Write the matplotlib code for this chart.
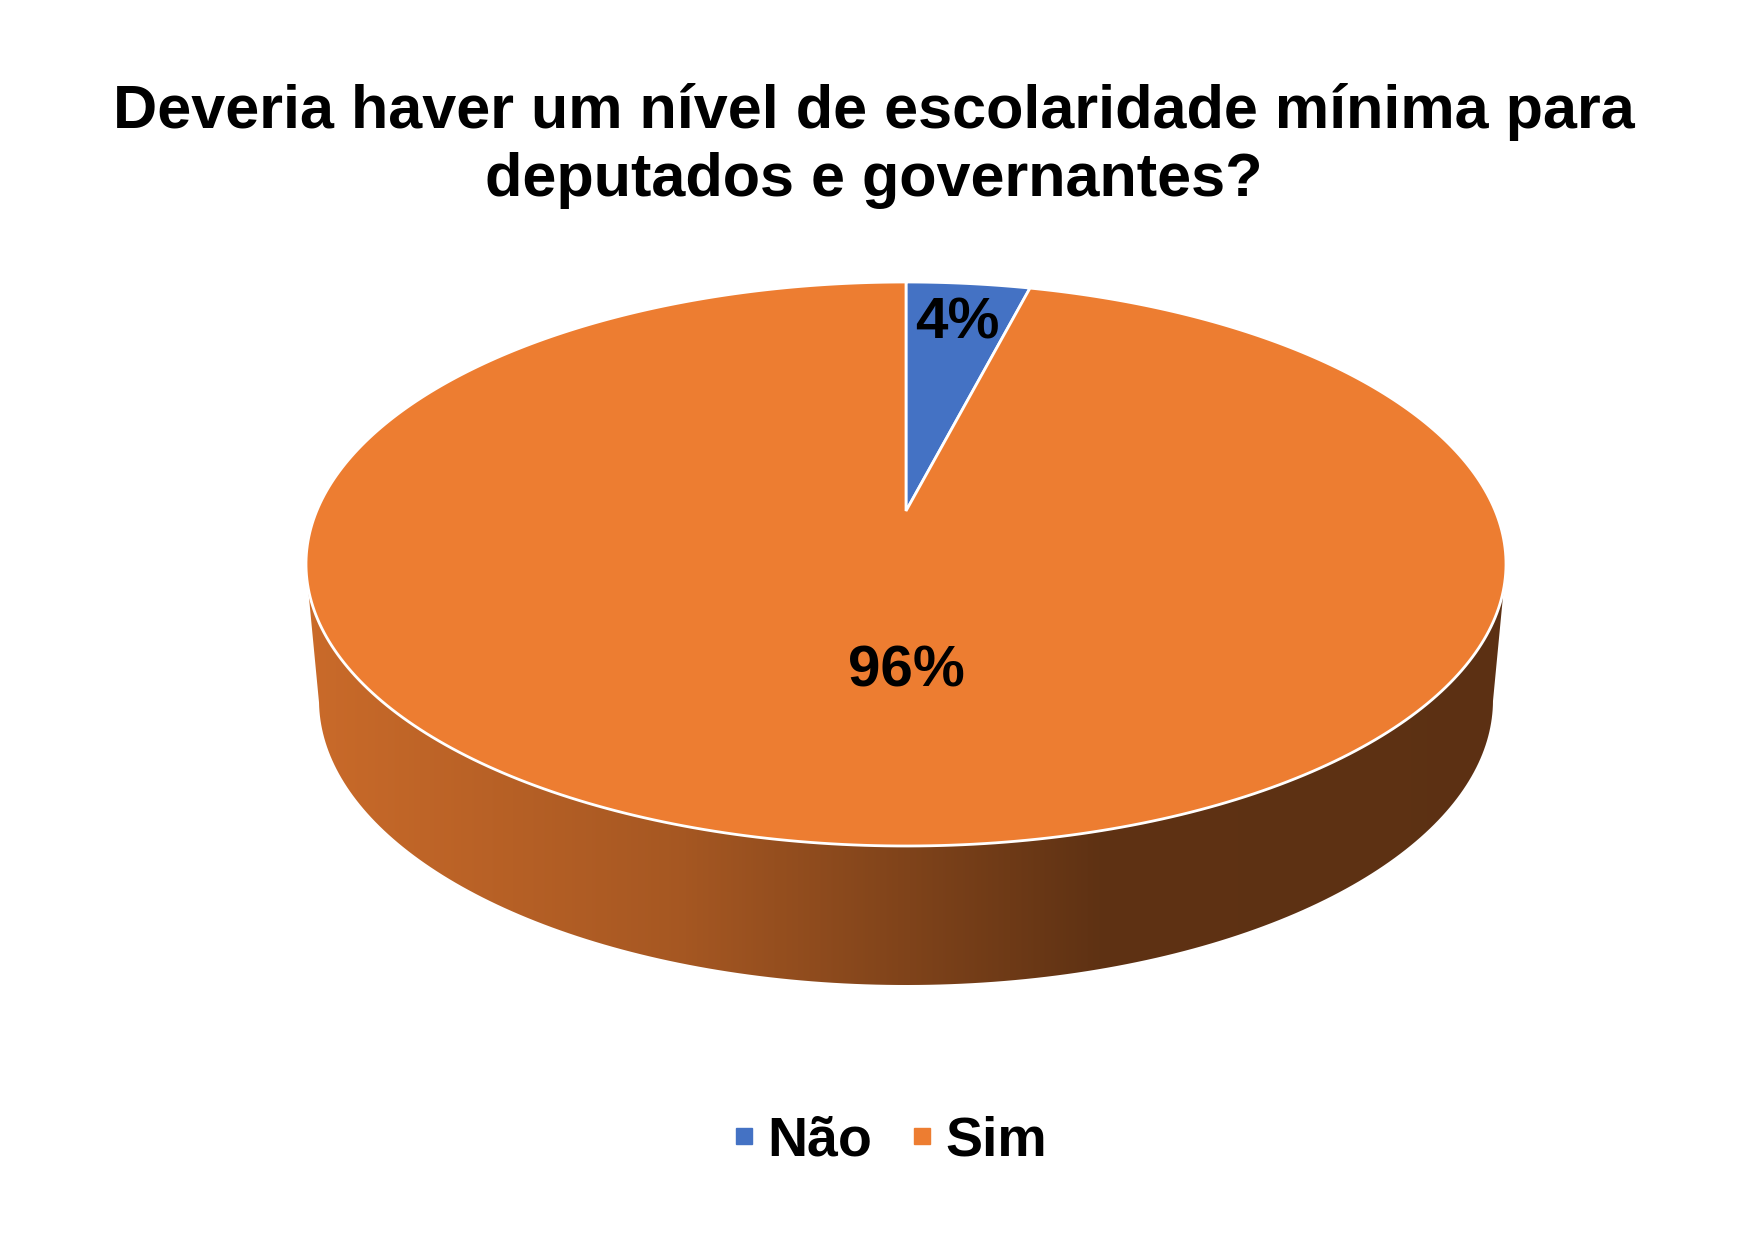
import numpy as np
import matplotlib
matplotlib.use("Agg")
import matplotlib.pyplot as plt
from matplotlib.patches import Polygon
from matplotlib.lines import Line2D
from matplotlib.colors import to_rgb

plt.rcParams['font.family'] = ['Liberation Sans', 'DejaVu Sans']

title = "Deveria haver um nível de escolaridade mínima para\ndeputados e governantes?"
labels = ["Não", "Sim"]
values = [4, 96]
colors = ["#4472C4", "#ED7D31"]

# pie geometry (pixels)
cx, cy, a, b = 906, 564, 600, 282      # top face outline
cy2, a2, b2 = 700, 587, 285            # bottom outline
tilt = np.arctanh(-0.188)              # perspective shift of the centre
ch, sh = np.cosh(tilt), np.sinh(tilt)


def proj(u, v):
    # disk coords (u right, v far) -> normalised screen coords
    Y = -v
    Yp = ch * Y + sh
    Wp = sh * Y + ch
    return u / Wp, Yp / Wp


def to_top(X, Y):
    return cx + a * X, cy + b * Y


def to_bot(X, Y):
    return cx + a2 * X, cy2 + b2 * Y


def shade(x):
    # light on the left, dark on the right
    return np.interp(x, [310, 680, 1100, 1510], [0.85, 0.70, 0.40, 0.39])


fig = plt.figure(figsize=(17.49, 12.41), dpi=100)
ax = fig.add_axes([0, 0, 1, 1])
ax.set_xlim(0, 1749)
ax.set_ylim(1241, 0)
ax.axis('off')

fracs = np.array(values) / np.sum(values)
starts = np.concatenate([[0], np.cumsum(fracs)[:-1]]) * 2 * np.pi
ends = np.cumsum(fracs) * 2 * np.pi

# sides
gx = np.linspace(300, 1520, 600)
for s, e, c in zip(starts, ends, colors):
    th = np.linspace(s, e, 400)
    X, Y = proj(np.sin(th), np.cos(th))
    vis = Y >= 0
    if not vis.any():
        continue
    idx = np.where(vis)[0]
    runs = np.split(idx, np.where(np.diff(idx) > 1)[0] + 1)
    base = np.array(to_rgb(c))
    grad = np.clip(shade(gx)[None, :, None] * base[None, None, :], 0, 1)
    grad = np.repeat(grad, 2, axis=0)
    for r in runs:
        tx, ty = to_top(X[r], Y[r])
        bx, by = to_bot(X[r], Y[r])
        pts = np.column_stack([np.concatenate([tx, bx[::-1]]),
                               np.concatenate([ty, by[::-1]])])
        poly = Polygon(pts, closed=True, facecolor='none', edgecolor='none')
        ax.add_patch(poly)
        im = ax.imshow(grad, extent=[300, 1520, 1000, 540], aspect='auto',
                       zorder=1, interpolation='bilinear')
        im.set_clip_path(poly)

# top face
ax0, ay0 = to_top(*proj(0, 0))
for s, e, c in zip(starts, ends, colors):
    th = np.linspace(s, e, 400)
    X, Y = proj(np.sin(th), np.cos(th))
    tx, ty = to_top(X, Y)
    pts = np.column_stack([np.concatenate([[ax0], tx]), np.concatenate([[ay0], ty])])
    ax.add_patch(Polygon(pts, closed=True, facecolor=c, edgecolor='white',
                         linewidth=2, zorder=2))

# data labels
for s, e, v in zip(starts, ends, values):
    if e - s > np.pi:
        X, Y = proj(0, -0.53)
    else:
        m = (s + e) / 2
        X, Y = proj(0.8 * np.sin(m), 0.8 * np.cos(m))
    lx, ly = to_top(X, Y)
    ax.text(lx, ly, f"{v}%", ha='center', va='center', fontsize=42,
            fontweight='bold', color='black', zorder=5)

ax.text(874, 146, title, ha='center', va='center', fontsize=44,
        fontweight='bold', color='black', linespacing=1.27)

handles = [Line2D([], [], marker='s', linestyle='none', markersize=11,
                  markerfacecolor=c, markeredgecolor=c) for c in colors]
ax.legend(handles, labels, loc='center', bbox_to_anchor=(0.5074, 0.08),
          ncol=2, frameon=False, prop={'weight': 'bold', 'size': 40},
          handlelength=0.6, handletextpad=0.12, columnspacing=0.6)

fig.savefig("out.png", dpi=100, facecolor='white')
